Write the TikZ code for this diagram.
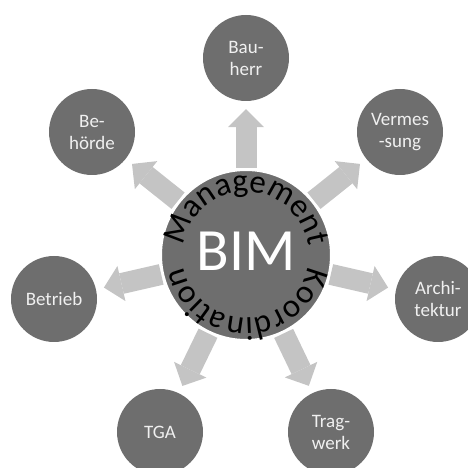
\documentclass[tikz,border=0pt]{standalone}
\usepackage{fontspec}
\setmainfont{Carlito}
\usetikzlibrary{arrows.meta,decorations.text}
\definecolor{discgray}{gray}{0.43}
\definecolor{arrowgray}{gray}{0.77}
\definecolor{labelgray}{gray}{0.94}
\tikzset{
  party/.style={circle, fill=discgray, minimum size=86pt, inner sep=0pt,
    text=labelgray, align=center, font=\fontsize{19}{22}\selectfont},
  hub/.style={circle, fill=discgray, draw=white, line width=3pt,
    minimum size=171pt, inner sep=0pt, text=white, font=\fontsize{60}{60}\selectfont},
  flow/.style={draw=arrowgray, line width=21pt,
    -{Triangle[width=36pt,length=18pt,line width=0pt]}, shorten >=8pt},
  ringtext/.style={decorate, decoration={text along path, text align=center,
    text={|\fontsize{33}{38}\selectfont|#1}}}
}
\begin{document}
\begin{tikzpicture}[x=1pt,y=1pt]
    \useasboundingbox (0,0) rectangle (468,468);
      \node[party] (Bh) at (246, 410) {Bau-\\herr};
      \node[party] (Vm) at (400, 336) {Vermes\\-sung};
      \node[party] (Ar) at (438, 169) {Archi-\\tektur};
      \node[party] (Tw) at (331, 36) {Trag-\\werk};
      \node[party] (TGA) at (160, 36) {TGA};
      \node[party] (Bt) at (54, 169) {Betrieb};
      \node[party] (Bb) at (92, 336) {Be-\\hörde};
      \node[hub] (BIM) at (246, 213) {\raisebox{7pt}{BIM}};
      \draw[flow] (BIM) -- (Bh);
      \draw[flow] (BIM) -- (Vm);
      \draw[flow] (BIM) -- (Ar);
      \draw[flow] (BIM) -- (Tw);
      \draw[flow] (BIM) -- (TGA);
      \draw[flow] (BIM) -- (Bt);
      \draw[flow] (BIM) -- (Bb);
      \path[ringtext=Management] (BIM) ++(180:63) arc[start angle=180, end angle=0, radius=63];
      \path[ringtext=Koordination] (BIM) ++(-1:63) arc[start angle=-1, end angle=-179, radius=63];
\end{tikzpicture}
\end{document}
